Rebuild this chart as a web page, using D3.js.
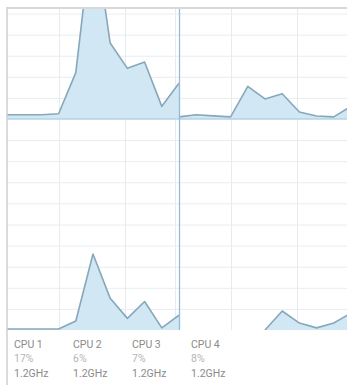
<!DOCTYPE html>
<html>
<head>
<meta charset="utf-8">
<script src="https://cdn.jsdelivr.net/npm/d3@7"></script>
<style>
  html, body { margin: 0; padding: 0; background: #fff; }
  svg { display: block; }
</style>
</head>
<body>
<svg id="chart" width="347" height="385"></svg>
<script>
// Per-core load history, percent, one sample per step (null = no sample yet)
const samples = d3.range(11);
const cpu1 = [2, 2, 2, 2.5, 22, 92, 36, 24, 27, 6, 17];
const cpu2 = [1, 2, 1.5, 1, 15.5, 9.5, 12, 3.3, 1.4, 1, 6];
const cpu3 = [0.5, 0.5, 0.5, 0.5, 4.3, 36, 15, 5.5, 13.5, 1, 7];
const cpu4 = [null, null, null, null, null, 0, 9, 3.3, 1, 3.3, 8];
const cpuNames = ["CPU 1", "CPU 2", "CPU 3", "CPU 4"];
const cpuFreq = ["1.2GHz", "1.2GHz", "1.2GHz", "1.2GHz"];
const gridPercent = d3.range(10, 100, 10);
const gridSamples = [3, 6.85, 9.75];

const svg = d3.select("#chart");
const series = [cpu1, cpu2, cpu3, cpu4];

// 2x2 layout of panels: top row is shorter, bottom row full height
const colX = [7, 179];
const panelW = 172;
const rows = [{ top: 8, base: 119 }, { top: 119, base: 330 }];
const pxPerPct = 2.11;

const panels = series.map((data, i) => {
  const col = i % 2, row = Math.floor(i / 2);
  const r = rows[row];
  return {
    data, i,
    x0: colX[col], x1: Math.min(colX[col] + panelW, 347),
    top: r.top, base: r.base,
    x: d3.scaleLinear().domain([0, 10]).range([colX[col], colX[col] + panelW]),
    y: d3.scaleLinear().domain([0, 100]).range([r.base, r.base - 100 * pxPerPct])
  };
});

const defs = svg.append("defs");

panels.forEach(p => {
  const clipId = "clip" + p.i;
  defs.append("clipPath").attr("id", clipId)
    .append("rect")
    .attr("x", p.x0).attr("y", p.top)
    .attr("width", p.x1 - p.x0).attr("height", p.base - p.top);

  const g = svg.append("g").attr("clip-path", `url(#${clipId})`);

  // grid
  g.selectAll(".gy").data(gridPercent).join("line")
    .attr("x1", p.x0).attr("x2", p.x1)
    .attr("y1", d => p.y(d) + 0.5).attr("y2", d => p.y(d) + 0.5)
    .attr("stroke", "#e8edf1").attr("stroke-width", 1);
  g.selectAll(".gx").data(gridSamples).join("line")
    .attr("x1", d => Math.round(p.x(d)) + 0.5).attr("x2", d => Math.round(p.x(d)) + 0.5)
    .attr("y1", p.top).attr("y2", p.base)
    .attr("stroke", "#e6ebef").attr("stroke-width", 1);

  const pts = samples.map(s => ({ s, v: p.data[s] }));
  const area = d3.area()
    .defined(d => d.v != null)
    .x(d => p.x(d.s)).y0(p.base).y1(d => p.y(d.v));
  const line = d3.line()
    .defined(d => d.v != null)
    .x(d => p.x(d.s)).y(d => p.y(d.v));

  g.append("path").datum(pts)
    .attr("d", area)
    .attr("fill", "#d1e7f3");
  g.append("path").datum(pts)
    .attr("d", line)
    .attr("fill", "none")
    .attr("stroke", "#86a8ba").attr("stroke-width", 1.6)
    .attr("stroke-linejoin", "round");
});

// panel dividers and frame
svg.append("line")
  .attr("x1", 7).attr("x2", 347).attr("y1", 119).attr("y2", 119)
  .attr("stroke", "#b3d3e7").attr("stroke-width", 1.5);
svg.append("line")
  .attr("x1", 179.5).attr("x2", 179.5).attr("y1", 8).attr("y2", 330)
  .attr("stroke", "#94bcd6").attr("stroke-width", 1.3);
svg.append("line")
  .attr("x1", 7).attr("x2", 347).attr("y1", 8).attr("y2", 8)
  .attr("stroke", "#d8d8d8").attr("stroke-width", 2);
svg.append("line")
  .attr("x1", 7).attr("x2", 7).attr("y1", 7).attr("y2", 385)
  .attr("stroke", "#cfcfcf").attr("stroke-width", 1.5);

// legend: name, current load, frequency
const legend = svg.append("g")
  .attr("font-family", "Roboto, 'Noto Sans', sans-serif")
  .attr("font-size", 10.5);
const legendX = d3.scaleLinear().domain([0, 1]).range([14, 73]);
cpuNames.forEach((name, i) => {
  const gx = legendX(i);
  const last = series[i][series[i].length - 1];
  legend.append("text").attr("x", gx).attr("y", 348)
    .attr("fill", "#8a8a8a").text(name);
  legend.append("text").attr("x", gx).attr("y", 362)
    .attr("fill", "#b5b5b5").text(last + "%");
  legend.append("text").attr("x", gx).attr("y", 377)
    .attr("fill", "#8a8a8a").text(cpuFreq[i]);
});
</script>
</body>
</html>
